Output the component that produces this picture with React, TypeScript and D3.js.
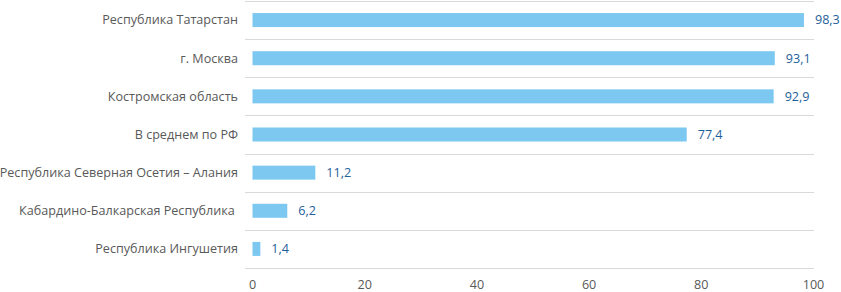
import React from "react";
import * as d3 from "d3";

const categories = [
  "Республика Татарстан",
  "г. Москва",
  "Костромская область",
  "В среднем по РФ",
  "Республика Северная Осетия – Алания",
  "Кабардино-Балкарская Республика ",
  "Республика Ингушетия",
];
const values = [98.3, 93.1, 92.9, 77.4, 11.2, 6.2, 1.4];
const ticks = [0, 20, 40, 60, 80, 100];

const W = 841;
const H = 292;

export default function App() {
  const x = d3.scaleLinear().domain([0, 100]).range([252.5, 813.5]);
  const y = d3.scaleBand().domain(categories).range([1, 268]).paddingInner(0).paddingOuter(0);
  const bh = 14;
  const fmt = (v: number) => v.toFixed(1).replace(".", ",");
  const font = "Open Sans, sans-serif";
  const fs = 12.6;
  const bounds = [...categories.map((c) => y(c)!), 268];
  return (
    <svg width={W} height={H} style={{ position: "absolute", left: 0, top: 0 }}>
      <rect width={W} height={H} fill="#fff" />
      {bounds.map((b, i) => (
        <line key={i} x1={245} x2={814} y1={Math.round(b) + 0.5} y2={Math.round(b) + 0.5} stroke="#d9d9d9" strokeWidth={1} />
      ))}
      {categories.map((c, i) => {
        const cy = y(c)! + y.bandwidth() / 2;
        return (
          <g key={c}>
            <rect x={x(0)} y={cy - bh / 2} width={x(values[i]) - x(0)} height={bh} fill="#7cc8f1" />
            <text x={x(values[i]) + 11} y={cy} dy="0.35em" fontFamily={font} fontSize={fs} fill="#1f5f99">
              {fmt(values[i])}
            </text>
            <text x={238} y={cy} dy="0.35em" textAnchor="end" fontFamily={font} fontSize={fs} fill="#595959" xmlSpace="preserve">
              {c}
            </text>
          </g>
        );
      })}
      {ticks.map((t) => (
        <text key={t} x={x(t)} y={284.5} dy="0.35em" textAnchor="middle" fontFamily={font} fontSize={fs} fill="#595959">
          {t}
        </text>
      ))}
    </svg>
  );
}
